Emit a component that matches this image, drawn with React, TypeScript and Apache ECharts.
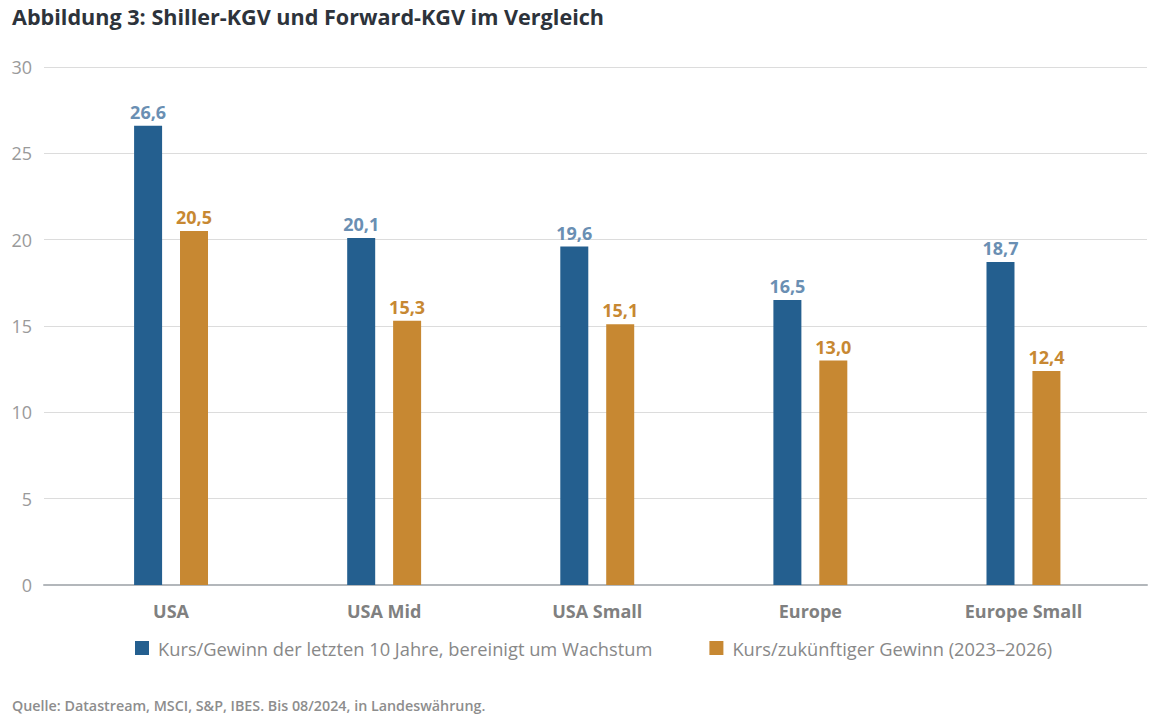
import React, { useEffect, useRef } from "react";
import * as echarts from "echarts";

const categories = ["USA", "USA Mid", "USA Small", "Europe", "Europe Small"];
const shillerValues = [26.6, 20.1, 19.6, 16.5, 18.7];
const forwardValues = [20.5, 15.3, 15.1, 13.0, 12.4];
const seriesNames = [
  "Kurs/Gewinn der letzten 10 Jahre, bereinigt um Wachstum",
  "Kurs/zukünftiger Gewinn (2023–2026)",
];
const titleText = "Abbildung 3: Shiller-KGV und Forward-KGV im Vergleich";
const sourceText = "Quelle: Datastream, MSCI, S&P, IBES. Bis 08/2024, in Landeswährung.";

const BLUE = "#245f8f";
const ORANGE = "#c78832";
const FONT = "'Open Sans', 'Noto Sans', sans-serif";

const fmt = (v: number) => v.toFixed(1).replace(".", ",");

export default function App() {
  const ref = useRef<HTMLDivElement>(null);
  useEffect(() => {
    if (!ref.current) return;
    document.body.style.margin = "0";
    const chart = echarts.init(ref.current, undefined, { renderer: "svg" });
    chart.setOption({
      animation: false,
      backgroundColor: "#ffffff",
      textStyle: { fontFamily: FONT },
      graphic: [
        {
          type: "text",
          left: 12,
          top: 5,
          style: { text: titleText, font: `bold 21.6px ${FONT}`, fill: "#2d333b" },
        },
        {
          type: "text",
          left: 12,
          top: 698,
          style: { text: sourceText, font: `600 14.3px ${FONT}`, fill: "#8d8d8d" },
        },
      ],
      legend: {
        bottom: 60,
        left: 130,
        icon: "rect",
        itemWidth: 14,
        itemHeight: 14,
        itemGap: 57,
        textStyle: { fontFamily: FONT, fontSize: 18.3, color: "#888888", padding: [0, 0, 0, 4] },
        data: seriesNames,
      },
      grid: [
        { left: 44, right: 21, top: 67, bottom: 137 },
        { left: 64.5, right: 38, top: 67, bottom: 137 },
      ],
      xAxis: [
        {
          gridIndex: 0,
          type: "value",
          min: 0,
          max: 1,
          axisLine: { show: true, onZero: false, lineStyle: { color: "#b3b7bb", width: 2 } },
          axisTick: { show: false },
          axisLabel: { show: false },
          splitLine: { show: false },
        },
        {
          gridIndex: 1,
          type: "category",
          data: categories,
          axisLine: { show: false },
          axisTick: { show: false },
          axisLabel: {
            margin: 17,
            fontFamily: FONT,
            fontSize: 18,
            fontWeight: "bold",
            color: "#808080",
          },
        },
      ],
      yAxis: [
        {
          gridIndex: 0,
          type: "value",
          min: 0,
          max: 30,
          interval: 5,
          axisLine: { show: false },
          axisTick: { show: false },
          axisLabel: { margin: 12, fontFamily: FONT, fontSize: 18, color: "#9a9a9a" },
          splitLine: { lineStyle: { color: "#dcdcdc", width: 1 } },
        },
        {
          gridIndex: 1,
          type: "value",
          min: 0,
          max: 30,
          interval: 5,
          show: false,
          splitLine: { show: false },
        },
      ],
      series: [
        {
          name: seriesNames[0],
          type: "bar",
          xAxisIndex: 1,
          yAxisIndex: 1,
          data: shillerValues,
          barWidth: 28,
          barGap: "64%",
          itemStyle: { color: BLUE },
          label: {
            show: true,
            position: "top",
            distance: 5,
            formatter: (p: any) => fmt(p.value),
            fontFamily: FONT,
            fontSize: 18,
            fontWeight: "bold",
            color: "#6a8fb3",
          },
        },
        {
          name: seriesNames[1],
          type: "bar",
          xAxisIndex: 1,
          yAxisIndex: 1,
          data: forwardValues,
          barWidth: 28,
          itemStyle: { color: ORANGE },
          label: {
            show: true,
            position: "top",
            distance: 5,
            formatter: (p: any) => fmt(p.value),
            fontFamily: FONT,
            fontSize: 18,
            fontWeight: "bold",
            color: ORANGE,
          },
        },
      ],
    });
    return () => chart.dispose();
  }, []);
  return <div ref={ref} style={{ width: 1168, height: 722 }} />;
}
